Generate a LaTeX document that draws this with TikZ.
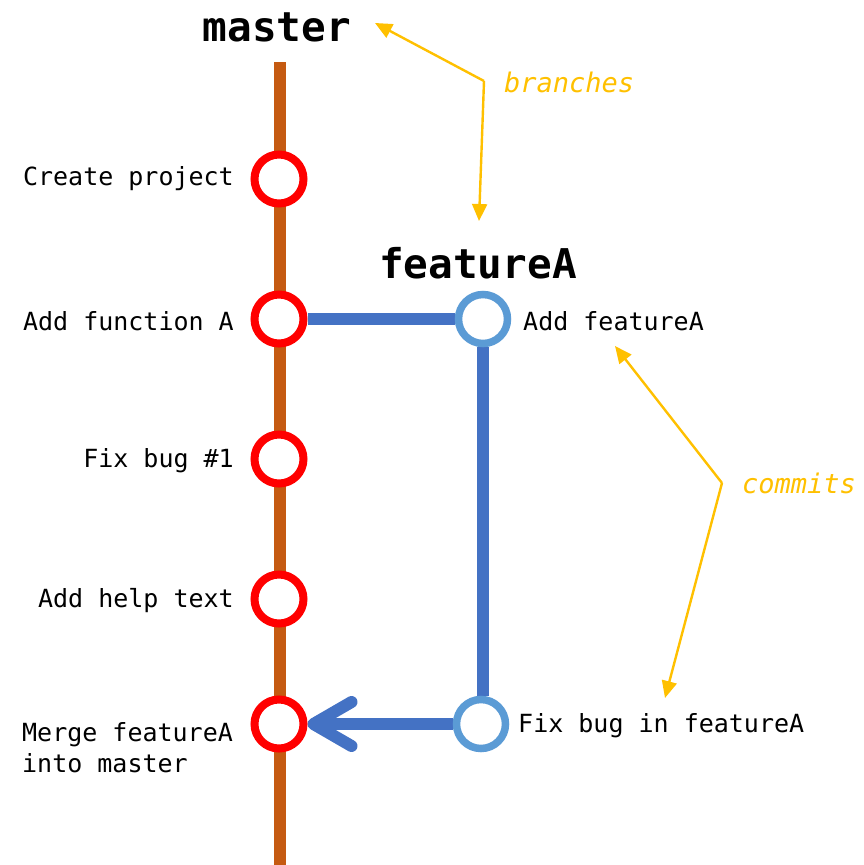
\documentclass[tikz,border=0pt]{standalone}
\usepackage{fontspec}
\setmonofont{DejaVu Sans Mono}
\usetikzlibrary{arrows.meta,backgrounds,calc}
\definecolor{brownline}{HTML}{C55A11}
\definecolor{blueline}{HTML}{4472C4}
\definecolor{bluering}{HTML}{5B9BD5}
\definecolor{redring}{HTML}{FF0000}
\definecolor{note}{HTML}{FFC000}
\tikzset{
  redc/.style={circle,draw=redring,fill=white,line width=8pt,minimum size=49pt,inner sep=0pt},
  bluec/.style={circle,draw=bluering,fill=white,line width=7.5pt,minimum size=49pt,inner sep=0pt},
  lbl/.style={font=\ttfamily\fontsize{25}{31}\selectfont,inner sep=0pt},
  head/.style={font=\ttfamily\bfseries\fontsize{41}{48}\selectfont,inner sep=0pt},
  notelbl/.style={font=\ttfamily\itshape\fontsize{27}{32}\selectfont,text=note,inner sep=0pt},
  trunk/.style={draw=brownline,line width=12pt},
  blink/.style={draw=blueline,line width=12pt},
  pointer/.style={draw=note,line width=2.4pt,-{Triangle[length=17pt,width=15pt]}},
}
\begin{document}
\begin{tikzpicture}[x=1pt,y=-1pt]
\useasboundingbox (0,0) rectangle (863,865);
% commits
\node[redc] (c1) at (279,179) {};
\node[redc] (c2) at (279,319) {};
\node[redc] (c3) at (279,459) {};
\node[redc] (c4) at (279,599) {};
\node[redc] (c5) at (279,724) {};
\node[bluec] (f1) at (483,319) {};
\node[bluec] (f2) at (481,724) {};
\coordinate (mtop) at (280,62);
\coordinate (mbot) at (280,865);
\begin{scope}[on background layer]
\draw[trunk] (mtop) -- (mbot);
\draw[blink] (c2) -- (f1);
\draw[blink] (f1.south -| 483,0) -- (f2.north -| 483,0);
\draw[blink,-{Straight Barb[round,length=38pt,width=44pt]}] (f2) -- (c5);
\end{scope}
% branch names
\node[head] (master) at (277,27) {master};
\node[head] (featureA) at (478,263) {featureA};
% commit labels
\node[lbl,anchor=east] (l1) at (234,179) {Create project};
\node[lbl,anchor=east] (l2) at (234,321) {Add function A};
\node[lbl,anchor=east] (l3) at (234,461) {Fix bug \#1};
\node[lbl,anchor=east] (l4) at (234,601) {Add help text};
\node[lbl,anchor=west,align=left] (l5) at (22,748) {Merge featureA\\into master};
\node[lbl,anchor=west] (l6) at (523,321) {Add featureA};
\node[lbl,anchor=west] (l7) at (518,726) {Fix bug in featureA};
% notes
\node[notelbl,anchor=west] (nb) at (504,82) {branches};
\node[notelbl,anchor=west] (nc) at (742,483) {commits};
\coordinate (bcorner) at (484,81);
\coordinate (btip1) at (375,23);
\coordinate (btip2) at (479,221);
\coordinate (ccorner) at (722,483);
\coordinate (ctip1) at (615,346);
\coordinate (ctip2) at (665,698);
\draw[pointer] (bcorner) -- (btip1);
\draw[pointer] (bcorner) -- (btip2);
\draw[pointer] (ccorner) -- (ctip1);
\draw[pointer] (ccorner) -- (ctip2);
\end{tikzpicture}
\end{document}
